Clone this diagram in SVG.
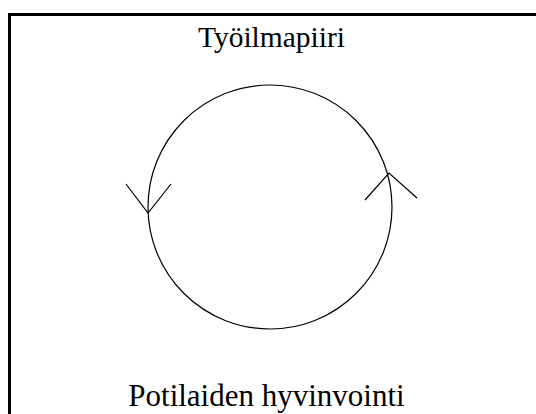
<svg xmlns="http://www.w3.org/2000/svg" width="536" height="414" viewBox="0 0 536 414">
<style>
.lbl{font-family:"Liberation Serif","Times New Roman",serif;fill:#000;text-anchor:middle}
.ln{fill:none;stroke:#000;stroke-width:1.2}
</style>
<rect x="0" y="0" width="536" height="414" fill="#fff"/>
<rect x="9.5" y="14.5" width="540" height="420" fill="none" stroke="#000" stroke-width="3"/>
<g id="top"><text class="lbl" x="271.5" y="47" font-size="29.5">Työilmapiiri</text></g>
<g id="bottom"><text class="lbl" x="266.5" y="406" font-size="31">Potilaiden hyvinvointi</text></g>
<g id="connectors">
<circle class="ln" cx="270" cy="207" r="122"/>
<polyline class="ln" points="126,184 148,213 171,184"/>
<polyline class="ln" points="365,200 389,173 417,198"/>
</g>
</svg>
